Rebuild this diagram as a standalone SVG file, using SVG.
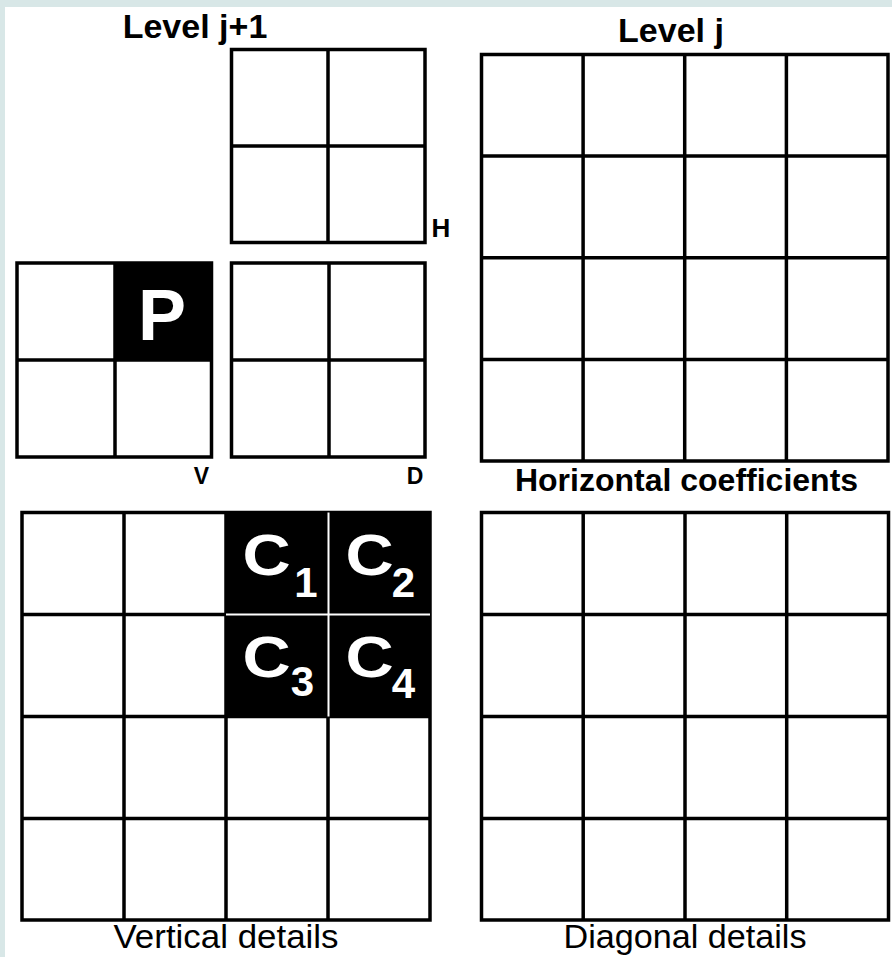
<svg xmlns="http://www.w3.org/2000/svg" width="892" height="957" viewBox="0 0 892 957">
<style>
.g{fill:#fff;stroke:#000;stroke-width:3.5}
.l{fill:none;stroke:#000;stroke-width:3.5}
.t{font-family:"Liberation Sans",Arial,sans-serif;fill:#000}
.b{font-weight:bold}
.w{fill:#fff}
</style>
<rect x="0" y="0" width="892" height="957" fill="#d8e7e7"/>
<rect x="5" y="7" width="887" height="950" fill="#fff"/>
<text class="t b" x="195" y="38" font-size="34" text-anchor="middle">Level j+1</text>
<text class="t b" x="671" y="41.5" font-size="34" text-anchor="middle">Level j</text>
<g id="H">
<rect class="g" x="231.5" y="49.5" width="193.5" height="193"/>
<path class="l" d="M328 49.5V242.5M231.5 146H425"/>
<text class="t b" x="441" y="237" font-size="26" text-anchor="middle">H</text>
</g>
<g id="V">
<rect class="g" x="17" y="263" width="194.5" height="194"/>
<rect x="115" y="263" width="96.5" height="97" fill="#000"/>
<path class="l" d="M115 263V457M17 360H211.5"/>
<text class="t b w" x="162" y="340" font-size="72" text-anchor="middle">P</text>
<text class="t b" x="201.5" y="484" font-size="23" text-anchor="middle">V</text>
</g>
<g id="D">
<rect class="g" x="231.5" y="263" width="193.5" height="194"/>
<path class="l" d="M329 263V457M231.5 360H425"/>
<text class="t b" x="415" y="484" font-size="23" text-anchor="middle">D</text>
</g>
<g id="horizontal">
<rect class="g" x="481.5" y="54.5" width="406.5" height="406.5"/>
<path class="l" d="M583.1 54.5V461M684.7 54.5V461M786.4 54.5V461M481.5 156.1H888M481.5 257.7H888M481.5 359.4H888"/>
<text class="t b" x="686.5" y="491" font-size="32" text-anchor="middle">Horizontal coefficients</text>
</g>
<g id="vertical">
<rect class="g" x="22" y="512.5" width="408" height="407.5"/>
<rect x="226" y="512.5" width="204" height="204" fill="#000"/>
<path class="l" d="M124 512.5V920M226 512.5V920M328 716.5V920M22 614.5H226M22 716.5H430M22 818.5H430"/>
<path d="M328.5 512.5V716.5M226 614.5H430" stroke="#fff" stroke-width="2" fill="none"/>
<g class="t b w">
<text font-size="58" text-anchor="middle" transform="translate(266.5 575) scale(1.15 1)">C</text>
<text font-size="42" x="306" y="597" text-anchor="middle">1</text>
<text font-size="58" text-anchor="middle" transform="translate(369.5 575) scale(1.15 1)">C</text>
<text font-size="42" x="403.5" y="597" text-anchor="middle">2</text>
<text font-size="58" text-anchor="middle" transform="translate(266.5 677) scale(1.15 1)">C</text>
<text font-size="42" x="302.5" y="696" text-anchor="middle">3</text>
<text font-size="58" text-anchor="middle" transform="translate(369.5 677) scale(1.15 1)">C</text>
<text font-size="42" x="403.5" y="698" text-anchor="middle">4</text>
</g>
<text class="t" x="226" y="948" font-size="33" text-anchor="middle" textLength="225" lengthAdjust="spacingAndGlyphs">Vertical details</text>
</g>
<g id="diagonal">
<rect class="g" x="481.5" y="512.5" width="407" height="407.5"/>
<path class="l" d="M583.2 512.5V920M685 512.5V920M786.7 512.5V920M481.5 614.5H888.5M481.5 716.5H888.5M481.5 818.5H888.5"/>
<text class="t" x="685" y="948" font-size="33" text-anchor="middle" textLength="243" lengthAdjust="spacingAndGlyphs">Diagonal details</text>
</g>
</svg>
